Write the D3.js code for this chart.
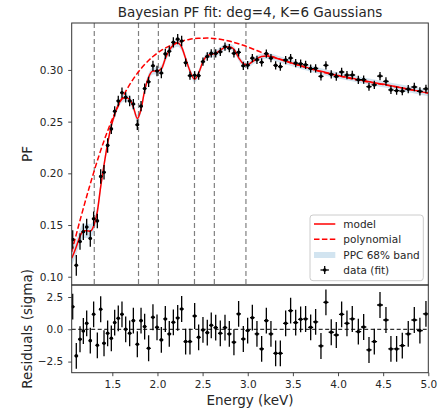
<!DOCTYPE html>
<html>
<head>
<meta charset="utf-8">
<script src="https://cdn.jsdelivr.net/npm/d3@7"></script>
<style>
  body { margin: 0; background: #fff; }
  svg { display: block; font-family: "DejaVu Sans", sans-serif; }
</style>
</head>
<body>
<svg id="chart" width="440" height="410"></svg>
<script>
// Bin centres (keV) of the fitted spectrum
const energy = [
  1.061,1.101,1.142,1.179,1.216,1.256,1.293,1.334,1.371,1.408,
  1.448,1.489,1.526,1.566,1.607,1.648,1.692,1.733,1.777,1.818,
  1.858,1.902,1.950,1.995,2.043,2.087,2.131,2.176,2.224,2.268,
  2.312,2.360,2.412,2.456,2.504,2.552,2.596,2.645,2.696,2.748,
  2.796,2.847,2.899,2.951,2.999,3.051,3.102,3.154,3.206,3.257,
  3.309,3.361,3.420,3.475,3.531,3.586,3.641,3.697,3.752,3.811,
  3.866,3.925,3.981,4.040,4.099,4.158,4.225,4.284,4.343,4.402,
  4.465,4.531,4.586,4.649,4.712,4.778,4.845,4.907,4.974
];

// Measured polarisation fraction per bin
const pf = [
  0.136,0.111,0.134,0.1435,0.148,0.137,0.156,0.154,0.197,0.201,
  0.227,0.243,0.260,0.270,0.278,0.2735,0.270,0.267,0.247,0.265,
  0.282,0.2885,0.304,0.299,0.297,0.3155,0.318,0.3267,0.3298,0.328,
  0.307,0.2945,0.2948,0.2945,0.308,0.313,0.316,0.316,0.3175,0.3225,
  0.321,0.316,0.317,0.304,0.3046,0.3114,0.3098,0.3074,0.3158,0.3114,
  0.3044,0.3032,0.3096,0.3115,0.3066,0.306,0.305,0.3013,0.3015,0.2938,
  0.3045,0.2957,0.2936,0.298,0.295,0.2951,0.2905,0.2906,0.2838,0.2855,
  0.2941,0.289,0.2807,0.2799,0.2795,0.2814,0.2835,0.2793,0.2817
];

// 1-sigma uncertainty of each PF value
const pfErr = [
  0.009,0.010,0.008,0.008,0.008,0.008,0.007,0.007,0.007,0.007,
  0.007,0.005,0.005,0.005,0.005,0.005,0.005,0.005,0.005,0.005,
  0.005,0.005,0.005,0.005,0.005,0.005,0.005,0.005,0.005,0.005,
  0.004,0.004,0.004,0.004,0.004,0.004,0.004,0.004,0.004,0.004,
  0.004,0.004,0.004,0.004,0.004,0.004,0.004,0.004,0.004,0.004,
  0.004,0.004,0.004,0.004,0.004,0.004,0.004,0.004,0.004,0.004,
  0.004,0.004,0.004,0.004,0.004,0.004,0.004,0.004,0.004,0.004,
  0.004,0.004,0.004,0.004,0.004,0.004,0.004,0.004,0.004
];

// Normalised residuals (data - model) / sigma
const residual = [
  1.75,-2.06,-0.77,-0.13,0.46,-0.88,1.16,-1.24,1.55,-1.08,
  -0.31,-0.70,0.52,0.85,1.16,0.00,-0.31,0.67,-1.16,0.67,
  0.21,-1.47,0.93,0.15,-0.82,0.80,-0.36,0.54,0.88,1.57,
  -0.95,-0.95,1.03,-0.62,-0.05,-0.26,0.31,0.13,-0.31,0.13,
  -0.36,-1.00,1.19,-0.75,-0.10,0.90,-0.36,-1.52,0.67,-0.36,
  -1.86,-1.86,0.46,1.44,0.52,0.77,0.80,0.15,0.57,-1.29,
  2.09,-0.23,-0.44,1.16,0.46,0.80,-0.18,0.18,-1.60,-0.95,
  1.88,0.72,-1.52,-1.52,-1.26,-0.36,0.72,-0.10,1.19
];

// Posterior model curve, sampled at the band edges and every bin centre
const modelEnergy = [1.05].concat(energy, [5.0]);
const modelPF = [
  0.118,
  0.120,0.129,0.139,0.1445,0.1445,0.144,0.149,0.163,0.187,0.208,
  0.229,0.246,0.257,0.266,0.272,0.273,0.2715,0.264,0.253,0.262,
  0.280,0.293,0.299,0.299,0.301,0.311,0.319,0.324,0.326,0.322,
  0.311,0.299,0.291,0.297,0.308,0.314,0.315,0.316,0.319,0.322,
  0.3225,0.320,0.312,0.306,0.305,0.308,0.311,0.313,0.3135,0.313,
  0.3115,0.310,0.3085,0.307,0.3055,0.304,0.3027,0.3013,0.300,0.2987,
  0.2975,0.2962,0.295,0.294,0.293,0.292,0.2907,0.2897,0.2887,0.2877,
  0.2867,0.2857,0.2847,0.2837,0.2826,0.2815,0.2803,0.2792,0.2780,
  0.2776
];

// Half-width of the posterior-predictive 68% band along the model curve
const ppcHalf = [
  0.007,
  0.007,0.007,0.007,0.007,0.007,0.007,0.006,0.006,0.005,0.005,
  0.004,0.004,0.0035,0.0035,0.0035,0.0035,0.0035,0.0035,0.0035,0.0035,
  0.0035,0.0035,0.0035,0.0035,0.0035,0.0035,0.0035,0.0035,0.0035,0.0035,
  0.003,0.003,0.003,0.003,0.003,0.003,0.003,0.003,0.003,0.003,
  0.003,0.003,0.003,0.003,0.003,0.003,0.003,0.003,0.003,0.003,
  0.003,0.003,0.003,0.003,0.003,0.003,0.003,0.003,0.003,0.003,
  0.003,0.003,0.003,0.003,0.003,0.003,0.003,0.003,0.003,0.003,
  0.003,0.003,0.003,0.003,0.003,0.003,0.003,0.003,0.003,
  0.003
];

// Degree-4 polynomial continuum
const polyEnergy = [1.05,1.15,1.25,1.35,1.45,1.55,1.65,1.75,1.85,1.95,2.05,2.15,2.25,2.35,2.45,2.55,2.65,2.75,2.85,2.95,3.05,3.15,3.25,3.40,3.60,3.80,4.00,4.25,4.50,4.75,5.00];
const polyPF = [0.124,0.157,0.188,0.2165,0.2415,0.2625,0.2795,0.2935,0.3045,0.3130,0.3193,0.3240,0.3273,0.3295,0.3306,0.3308,0.3302,0.3288,0.3266,0.3238,0.3205,0.3170,0.3137,0.3092,0.3035,0.2985,0.2943,0.2897,0.2858,0.2818,0.2778];

// Centres of the K=6 Gaussian components (keV)
const gaussCentres = [1.30, 1.79, 2.01, 2.41, 2.63, 2.98];

// Tick values
const pfTicks = [0.10, 0.15, 0.20, 0.25, 0.30];
const resTicks = [-2.5, 0.0, 2.5];
const energyTicks = [1.5, 2.0, 2.5, 3.0, 3.5, 4.0, 4.5, 5.0];

const titleText = "Bayesian PF fit: deg=4, K=6 Gaussians";

// ---------- layout ----------
const svg = d3.select("#chart");
const left = 71.7, right = 428.3;
const topY0 = 23, topY1 = 285, resY0 = 285, resY1 = 372.7;
const ink = "#262626";
const labelSize = "13.5px", tickSize = "10.5px";

const x = d3.scaleLinear().domain([1.05, 5.0]).range([left, right]);
const yTop = d3.scaleLinear().domain([0.092, 0.3454]).range([topY1, topY0]);
const yRes = d3.scaleLinear().domain([-3.36, 3.43]).range([resY1, resY0]);

const defs = svg.append("defs");
defs.append("clipPath").attr("id", "clipTop").append("rect")
  .attr("x", left).attr("y", topY0).attr("width", right - left).attr("height", topY1 - topY0);
defs.append("clipPath").attr("id", "clipRes").append("rect")
  .attr("x", left).attr("y", resY0).attr("width", right - left).attr("height", resY1 - resY0);

// half bin widths from neighbouring centres
const halfBin = energy.map((e, i) => {
  const lo = i > 0 ? energy[i - 1] : e - (energy[1] - energy[0]);
  const hi = i < energy.length - 1 ? energy[i + 1] : e + (e - energy[i - 1]);
  return (hi - lo) / 4;
});

// ---------- top panel ----------
const gTop = svg.append("g").attr("clip-path", "url(#clipTop)");

const modelRows = modelEnergy.map((e, i) => ({ e, m: modelPF[i], h: ppcHalf[i] }));

gTop.append("path")
  .datum(modelRows)
  .attr("fill", "rgba(31,119,180,0.2)")
  .attr("d", d3.area().x(d => x(d.e)).y0(d => yTop(d.m - d.h)).y1(d => yTop(d.m + d.h)).curve(d3.curveMonotoneX));

gTop.selectAll("line.gc").data(gaussCentres).join("line")
  .attr("class", "gc")
  .attr("x1", d => x(d)).attr("x2", d => x(d))
  .attr("y1", topY0).attr("y2", topY1)
  .attr("stroke", "#7f7f7f").attr("stroke-width", 1.2)
  .attr("stroke-dasharray", "5,3");

gTop.append("path")
  .datum(modelRows)
  .attr("fill", "none").attr("stroke", "#ff0000").attr("stroke-width", 1.5)
  .attr("d", d3.line().x(d => x(d.e)).y(d => yTop(d.m)).curve(d3.curveMonotoneX));

gTop.append("path")
  .datum(polyEnergy.map((e, i) => ({ e, v: polyPF[i] })))
  .attr("fill", "none").attr("stroke", "#ff0000").attr("stroke-width", 1.5)
  .attr("stroke-dasharray", "5.5,2.4")
  .attr("d", d3.line().x(d => x(d.e)).y(d => yTop(d.v)).curve(d3.curveMonotoneX));

const topPts = gTop.selectAll("g.pt").data(energy.map((e, i) => ({ e, v: pf[i], s: pfErr[i], w: halfBin[i] })))
  .join("g").attr("class", "pt");
topPts.append("line")
  .attr("x1", d => x(d.e)).attr("x2", d => x(d.e))
  .attr("y1", d => yTop(d.v - d.s)).attr("y2", d => yTop(d.v + d.s))
  .attr("stroke", "#000").attr("stroke-width", 1.3);
topPts.append("line")
  .attr("x1", d => x(d.e - d.w)).attr("x2", d => x(d.e + d.w))
  .attr("y1", d => yTop(d.v)).attr("y2", d => yTop(d.v))
  .attr("stroke", "#000").attr("stroke-width", 1.3);
topPts.append("circle")
  .attr("cx", d => x(d.e)).attr("cy", d => yTop(d.v)).attr("r", 1.8).attr("fill", "#000");

// ---------- residual panel ----------
const gRes = svg.append("g").attr("clip-path", "url(#clipRes)");
gRes.append("line")
  .attr("x1", left).attr("x2", right).attr("y1", yRes(0)).attr("y2", yRes(0))
  .attr("stroke", "#000").attr("stroke-width", 1).attr("stroke-dasharray", "4,2.5");

const resPts = gRes.selectAll("g.rp").data(energy.map((e, i) => ({ e, r: residual[i], w: halfBin[i] })))
  .join("g").attr("class", "rp");
resPts.append("line")
  .attr("x1", d => x(d.e)).attr("x2", d => x(d.e))
  .attr("y1", d => yRes(d.r - 1)).attr("y2", d => yRes(d.r + 1))
  .attr("stroke", "#000").attr("stroke-width", 1.3);
resPts.append("line")
  .attr("x1", d => x(d.e - d.w)).attr("x2", d => x(d.e + d.w))
  .attr("y1", d => yRes(d.r)).attr("y2", d => yRes(d.r))
  .attr("stroke", "#000").attr("stroke-width", 1.3);
resPts.append("circle")
  .attr("cx", d => x(d.e)).attr("cy", d => yRes(d.r)).attr("r", 1.8).attr("fill", "#000");

// ---------- frames and axes ----------
[[topY0, topY1], [resY0, resY1]].forEach(([a, b]) => {
  svg.append("rect").attr("x", left).attr("y", a).attr("width", right - left).attr("height", b - a)
    .attr("fill", "none").attr("stroke", "#333").attr("stroke-width", 1);
});

function styleAxis(g) {
  g.select(".domain").remove();
  g.selectAll(".tick line").attr("stroke", "#333").attr("stroke-width", 0.9);
  g.selectAll(".tick text").attr("fill", ink).attr("font-size", tickSize)
    .attr("font-family", "DejaVu Sans, sans-serif");
}

svg.append("g").attr("transform", `translate(${left},0)`)
  .call(d3.axisLeft(yTop).tickValues(pfTicks).tickFormat(d3.format(".2f")).tickSize(3.5).tickPadding(5))
  .call(styleAxis);

svg.append("g").attr("transform", `translate(${left},0)`)
  .call(d3.axisLeft(yRes).tickValues(resTicks).tickFormat(d3.format(".1f")).tickSize(3.5).tickPadding(5))
  .call(styleAxis);

svg.append("g").attr("transform", `translate(0,${resY1})`)
  .call(d3.axisBottom(x).tickValues(energyTicks).tickFormat(d3.format(".1f")).tickSize(3.5).tickPadding(4.5))
  .call(styleAxis);

// ---------- labels ----------
svg.append("text").attr("x", (left + right) / 2).attr("y", 17.3)
  .attr("text-anchor", "middle").attr("font-size", labelSize).attr("fill", ink).text(titleText);

svg.append("text").attr("x", (left + right) / 2).attr("y", 404.5)
  .attr("text-anchor", "middle").attr("font-size", labelSize).attr("fill", ink).text("Energy (keV)");

svg.append("text").attr("transform", `translate(32,${(topY0 + topY1) / 2}) rotate(-90)`)
  .attr("text-anchor", "middle").attr("font-size", labelSize).attr("fill", ink).text("PF");

svg.append("text").attr("transform", `translate(32,${(resY0 + resY1) / 2}) rotate(-90)`)
  .attr("text-anchor", "middle").attr("font-size", labelSize).attr("fill", ink).text("Residuals (sigma)");

// ---------- legend ----------
const lg = svg.append("g");
lg.append("rect").attr("x", 310).attr("y", 215).attr("width", 113.3).attr("height", 65.7)
  .attr("rx", 3).attr("fill", "#fff").attr("fill-opacity", 0.8)
  .attr("stroke", "#cccccc").attr("stroke-width", 1);

const rows = [224, 239.3, 255, 270];
const labels = ["model", "polynomial", "PPC 68% band", "data (fit)"];
lg.append("line").attr("x1", 314).attr("x2", 335.3).attr("y1", rows[0]).attr("y2", rows[0])
  .attr("stroke", "#ff0000").attr("stroke-width", 1.5);
lg.append("line").attr("x1", 314).attr("x2", 335.3).attr("y1", rows[1]).attr("y2", rows[1])
  .attr("stroke", "#ff0000").attr("stroke-width", 1.5).attr("stroke-dasharray", "5.5,2.4");
lg.append("rect").attr("x", 314).attr("y", rows[2] - 3).attr("width", 21.3).attr("height", 6)
  .attr("fill", "rgba(31,119,180,0.2)");
lg.append("line").attr("x1", 324.7).attr("x2", 324.7).attr("y1", rows[3] - 4).attr("y2", rows[3] + 4)
  .attr("stroke", "#000").attr("stroke-width", 1.3);
lg.append("line").attr("x1", 320.5).attr("x2", 328.9).attr("y1", rows[3]).attr("y2", rows[3])
  .attr("stroke", "#000").attr("stroke-width", 1.3);
lg.append("circle").attr("cx", 324.7).attr("cy", rows[3]).attr("r", 1.8).attr("fill", "#000");
lg.selectAll("text.lt").data(labels).join("text").attr("class", "lt")
  .attr("x", 343.3).attr("y", (d, i) => rows[i] + 3.7)
  .attr("font-size", "10.5px").attr("fill", ink).text(d => d);
</script>
</body>
</html>
